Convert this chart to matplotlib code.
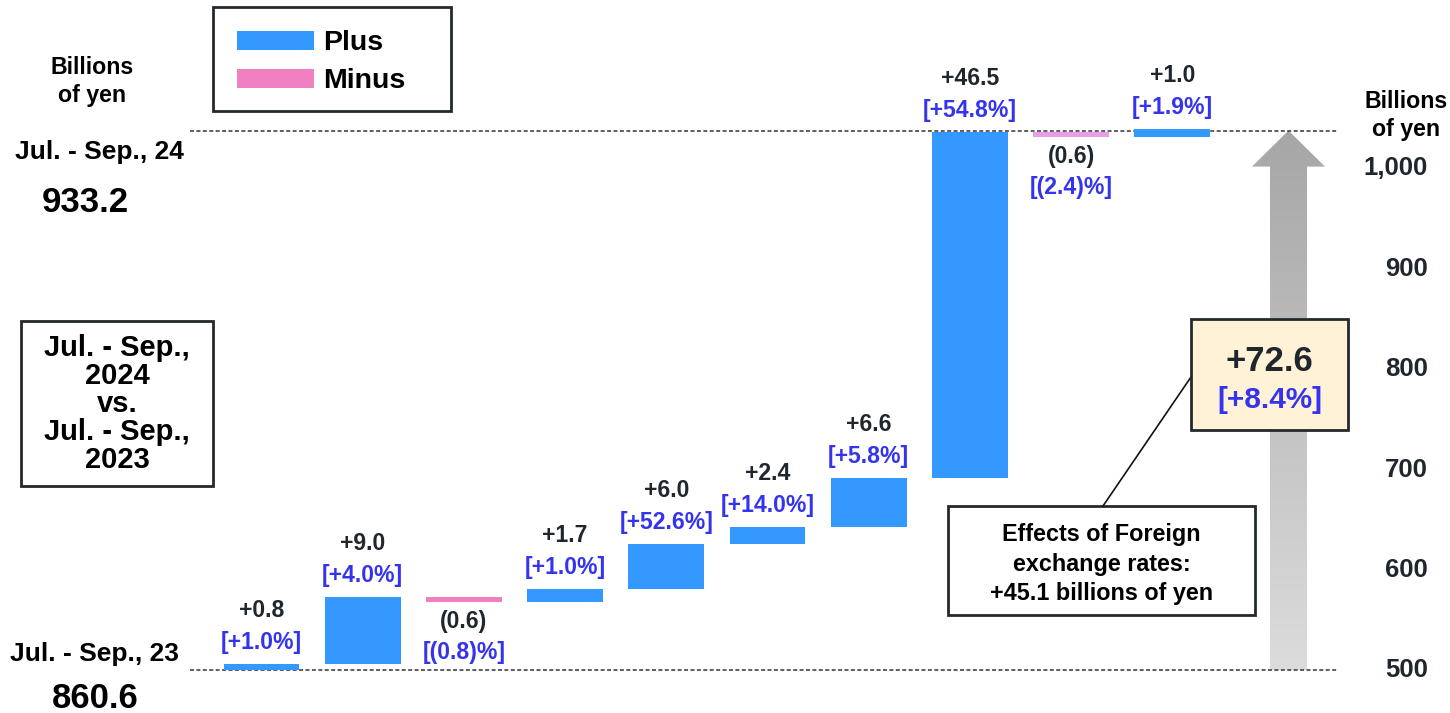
import matplotlib
matplotlib.use("Agg")
import matplotlib.pyplot as plt
import numpy as np
from matplotlib.patches import Rectangle, Polygon
from matplotlib.lines import Line2D
from matplotlib.colors import LinearSegmentedColormap

plt.rcParams['font.family'] = ['Liberation Sans', 'DejaVu Sans']
plt.rcParams['font.weight'] = 'bold'

# ---- data: net sales bridge, billions of yen ----
start_value = 860.6
end_value = 933.2
start_label = "Jul. - Sep., 23"
end_label = "Jul. - Sep., 24"
deltas = [0.8, 9.0, -0.6, 1.7, 6.0, 2.4, 6.6, 46.5, -0.6, 1.0]
delta_pcts = [1.0, 4.0, -0.8, 1.0, 52.6, 14.0, 5.8, 54.8, -2.4, 1.9]
total_change = 72.6
total_pct = 8.4
fx_effect = 45.1
right_ticks = [500, 600, 700, 800, 900, 1000]
legend_labels = ["Plus", "Minus"]
period_caption = ["Jul. - Sep.,", "2024", "vs.", "Jul. - Sep.,", "2023"]
unit_lines = ["Billions", "of yen"]

# ---- styling ----
PLUS = '#3399ff'
MINUS = ['#f080c0', '#ea9ce6']
DARK = '#1f262d'
BLUE = '#3434ee'
EDGE = '#24292e'
LABEL_SIZE = 16.6

W, H, DPI = 1450, 713, 100
fig = plt.figure(figsize=(W / DPI, H / DPI), dpi=DPI)
ax = fig.add_axes([0, 0, 1, 1])
ax.set_axis_off()

# value scale layout (pixels measured from the top-left corner)
BASE_PX = 670.0
PX_PER_UNIT = 7.43
STEP_PX = 101.2
FIRST_PX = 261.5


def xdata(px):
    return (px - FIRST_PX) / STEP_PX


def fx(px):
    return px / W


def fy(py):
    return 1 - py / H


def base_text(xc, yb, s, size, color='black', ha='center'):
    fig.text(fx(xc), fy(yb), s, fontsize=size, color=color, ha=ha, va='baseline')


# ---- waterfall bars ----
x = np.arange(len(deltas))
bottoms = start_value + np.concatenate([[0.0], np.cumsum(deltas)[:-1]])
neg_iter = iter(MINUS)
colors = [PLUS if d > 0 else next(neg_iter) for d in deltas]
ax.bar(x, deltas, bottom=bottoms, width=0.75, color=colors, linewidth=0, zorder=3)

for xi, b, d, p in zip(x, bottoms, deltas, delta_pcts):
    if d > 0:
        top = b + d
        ax.annotate(f"+{d:.1f}", (xi, top), xytext=(0, 47), textcoords='offset pixels',
                    ha='center', va='baseline', fontsize=LABEL_SIZE, color=DARK)
        ax.annotate(f"[+{p:.1f}%]", (xi, top), xytext=(0, 15), textcoords='offset pixels',
                    ha='center', va='baseline', fontsize=LABEL_SIZE, color=BLUE)
    else:
        bot = b + d
        ax.annotate(f"({abs(d):.1f})", (xi, bot), xytext=(0, -26), textcoords='offset pixels',
                    ha='center', va='baseline', fontsize=LABEL_SIZE, color=DARK)
        ax.annotate(f"[({abs(p):.1f})%]", (xi, bot), xytext=(0, -57), textcoords='offset pixels',
                    ha='center', va='baseline', fontsize=LABEL_SIZE, color=BLUE)

# ---- dashed reference lines for the two period totals ----
ax.hlines([start_value, end_value], xdata(190), xdata(1337), colors='#333333',
          linestyles=(0, (2.6, 1.6)), linewidth=1.1, zorder=2)

# ---- gradient arrow for the total change ----
ac = xdata(1288.5)
body_hw = 18.5 / STEP_PX
head_hw = 36.5 / STEP_PX
head_len = 36.0 / PX_PER_UNIT
neck = end_value - head_len
verts = [(ac - body_hw, start_value), (ac + body_hw, start_value), (ac + body_hw, neck),
         (ac + head_hw, neck), (ac, end_value), (ac - head_hw, neck), (ac - body_hw, neck)]
arrow = Polygon(verts, closed=True, facecolor='none', edgecolor='none')
ax.add_patch(arrow)
grad = np.linspace(0, 1, 256).reshape(-1, 1)
cmap = LinearSegmentedColormap.from_list('arrow_grey', ['#dcdcdc', '#a6a6a6'])
im = ax.imshow(grad, extent=[ac - head_hw, ac + head_hw, start_value, end_value],
               origin='lower', aspect='auto', cmap=cmap, zorder=1)
im.set_clip_path(arrow)

ax.set_xlim(xdata(0), xdata(W))
ax.set_ylim(start_value - (H - BASE_PX) / PX_PER_UNIT, start_value + BASE_PX / PX_PER_UNIT)

# ---- right-hand scale ----
TICK_BASE_PX, TICK_PX_PER_UNIT = 668.0, 1.004


def to_scale(v):
    return 500 + ((np.asarray(v) - start_value) * PX_PER_UNIT - (BASE_PX - TICK_BASE_PX)) / TICK_PX_PER_UNIT


def from_scale(t):
    return start_value + ((np.asarray(t) - 500) * TICK_PX_PER_UNIT + (BASE_PX - TICK_BASE_PX)) / PX_PER_UNIT


sec = ax.secondary_yaxis(1428 / W, functions=(to_scale, from_scale))
sec.set_yticks(right_ticks, labels=[f"{t:,}" for t in right_ticks])
sec.tick_params(axis='y', length=0, pad=0, labelsize=18.5, labelcolor=DARK)
for lbl in sec.get_yticklabels():
    lbl.set_horizontalalignment('right')
for sp in sec.spines.values():
    sp.set_visible(False)

# unit captions
base_text(1406, 108.3, unit_lines[0], 16.7)
base_text(1406, 136.0, unit_lines[1], 16.7)
base_text(92, 74.0, unit_lines[0], 16.7)
base_text(92, 101.7, unit_lines[1], 16.7)

# ---- period totals on the left ----
base_text(99.5, 159.3, end_label, 19)
base_text(85, 212.3, f"{end_value:.1f}", 25)
base_text(94.5, 660.7, start_label, 19)
base_text(95.5, 707.7, f"{start_value:.1f}", 25)

# ---- legend ----
fig.add_artist(Rectangle((fx(213), fy(111)), fx(451) - fx(213), fy(7) - fy(111),
                         transform=fig.transFigure, fill=False, edgecolor=EDGE, linewidth=2))
for (top, col, lab) in [(31, PLUS, legend_labels[0]), (69, MINUS[0], legend_labels[1])]:
    fig.add_artist(Rectangle((fx(237), fy(top + 19)), fx(314) - fx(237), fy(top) - fy(top + 19),
                             transform=fig.transFigure, facecolor=col, edgecolor='none'))
    base_text(323, top + 19, lab, 20.5, ha='left')

# ---- comparison caption box ----
fig.add_artist(Rectangle((fx(21), fy(486)), fx(213) - fx(21), fy(321) - fy(486),
                         transform=fig.transFigure, facecolor='white', edgecolor=EDGE, linewidth=2))
fig.text(fx(117), fy(404), "\n".join(period_caption), fontsize=21, color='black',
         ha='center', va='center', multialignment='center', linespacing=1.0)

# ---- total change box ----
fig.add_artist(Rectangle((fx(1191), fy(430)), fx(1348) - fx(1191), fy(319) - fy(430),
                         transform=fig.transFigure, facecolor='#fff2d6', edgecolor=EDGE,
                         linewidth=2, zorder=5))
fig.text(fx(1269.5), fy(370.7), f"+{total_change:.1f}", fontsize=25, color=DARK,
         ha='center', va='baseline', zorder=6)
fig.text(fx(1269.5), fy(408.3), f"[+{total_pct:.1f}%]", fontsize=21.4, color=BLUE,
         ha='center', va='baseline', zorder=6)

# ---- foreign exchange note with leader line ----
fig.add_artist(Line2D([fx(1191), fx(1103)], [fy(377), fy(506)], transform=fig.transFigure,
                      color='#111111', linewidth=1.2))
fig.add_artist(Rectangle((fx(948), fy(615)), fx(1255) - fx(948), fy(506) - fy(615),
                         transform=fig.transFigure, facecolor='white', edgecolor=EDGE, linewidth=2))
fig.text(fx(1101.5), fy(564), f"Effects of Foreign\nexchange rates:\n+{fx_effect:.1f} billions of yen",
         fontsize=16.8, color='black', ha='center', va='center', multialignment='center',
         linespacing=1.34)

fig.savefig("out.png", dpi=DPI)
